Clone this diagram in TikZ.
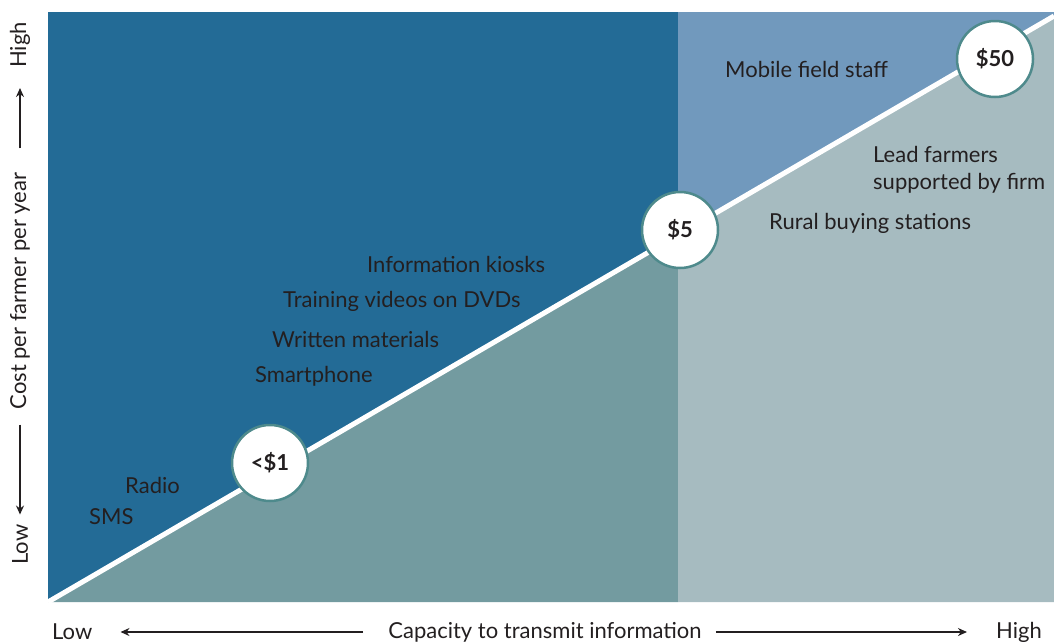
\documentclass[tikz,border=0pt]{standalone}
\usepackage{fontspec}
\setmainfont{Lato}
\usepackage{tikz}
\usetikzlibrary{arrows.meta}

\definecolor{darkblue}{HTML}{236B96}
\definecolor{lightblue}{HTML}{7199BD}
\definecolor{darkteal}{HTML}{739BA0}
\definecolor{lightteal}{HTML}{A6BBC0}
\definecolor{ringcol}{HTML}{4E8A8C}
\definecolor{inkcol}{HTML}{231F20}

\tikzset{
  lbl/.style = {text = inkcol, font = \fontsize{22}{27}\selectfont, inner sep = 0pt},
  axislbl/.style = {text = inkcol, font = \fontsize{22}{26}\selectfont, inner sep = 0pt},
  price/.style = {fill = white, draw = ringcol, line width = 2.5pt, shape = circle,
                  minimum size = 76pt, inner sep = 0pt, text = inkcol,
                  font = \fontsize{22}{24}\selectfont\bfseries},
  axisarrow/.style = {-{Stealth[length=9pt,width=8pt]}, line width = 1.6pt, inkcol}
}

\begin{document}
\begin{tikzpicture}[x=1pt, y=-1pt]

\useasboundingbox (0,0) rectangle (1054,643);

% background blocks
\fill[darkblue] (48,12) rectangle (678,602);
\fill[lightblue] (678,12) rectangle (1054,602);

\coordinate (lo) at (48,602);
\coordinate (mid) at (678,235);
\coordinate (hi) at (1054,16);

\fill[darkteal] (lo) -- (mid) -- (678,602) -- cycle;
\fill[lightteal] (mid) -- (hi) -- (1054,602) -- (678,602) -- cycle;

\draw[white, line width = 5pt] (lo) -- (hi);

% price circles
\node[price] (p1) at (270,463) {<\$1};
\node[price] (p5) at (680,230) {\$5};
\node[price] (p50) at (995,59) {\$50};

% channels
\node[lbl, anchor = west] (kiosk) at (367,264) {Information kiosks};
\node[lbl, anchor = west] (dvd) at (283,301) {Training videos on DVDs};
\node[lbl, anchor = west] (written) at (272,339) {Written materials};
\node[lbl, anchor = west] (phone) at (255,376) {Smartphone};
\node[lbl, anchor = west] (radio) at (125,485) {Radio};
\node[lbl, anchor = west] (sms) at (89,517) {SMS};
\node[lbl, anchor = west] (staff) at (725,69) {Mobile field staff};
\node[lbl, anchor = west, align = left] (lead) at (873,170) {Lead farmers\\supported by firm};
\node[lbl, anchor = west] (rural) at (769,223) {Rural buying stations};

% x axis
\node[axislbl, anchor = west] (xlow) at (52,632) {Low};
\node[axislbl] (xcap) at (545,632) {Capacity to transmit information};
\node[axislbl, anchor = east] (xhigh) at (1042,632) {High};
\draw[axisarrow, shorten <= 25pt, shorten >= 28pt] (xcap.west) -- (xlow.east);
\draw[axisarrow, shorten <= 14pt, shorten >= 29pt] (xcap.east) -- (xhigh.west);

% y axis
\node[axislbl, rotate = 90, anchor = west] (ylow) at (20,565) {Low};
\node[axislbl, rotate = 90] (ycost) at (20,291) {Cost per farmer per year};
\node[axislbl, rotate = 90, anchor = east] (yhigh) at (20,22) {High};
\draw[axisarrow, shorten <= 24pt, shorten >= 20pt] (ycost.east) -- (yhigh.west);
\draw[axisarrow, shorten <= 15pt, shorten >= 10pt] (ycost.west) -- (ylow.east);

\end{tikzpicture}
\end{document}
